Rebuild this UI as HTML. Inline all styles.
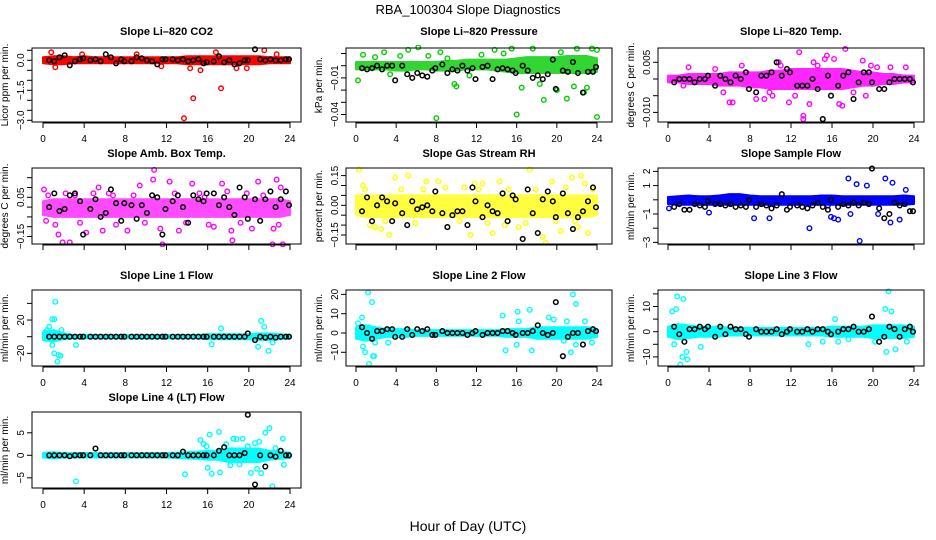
<!DOCTYPE html>
<html><head><meta charset="utf-8"><style>
html,body{margin:0;padding:0;background:#fff;}
svg{display:block;font-family:"Liberation Sans",Arial,sans-serif;}
</style></head><body>
<svg id="chart" width="936" height="540" viewBox="0 0 936 540">
<text x="468" y="14" text-anchor="middle" font-size="13">RBA_100304  Slope Diagnostics</text>
<text x="468" y="531" text-anchor="middle" font-size="14">Hour of Day (UTC)</text>
</svg>
<script>
// ---- shared data ----
const bandHours = [0,1,2,3,4,5,6,7,8,9,10,11,12,13,14,15,16,17,18,19,20,21,22,23,24];
const blackHours = [0.6,1.1,1.6,2.1,2.6,3.1,3.6,3.9,4.6,5.1,5.6,6.1,6.6,7.1,7.6,7.9,8.6,9.1,9.6,10.1,10.6,11.1,11.6,11.9,12.6,13.1,13.6,14.1,14.6,15.1,15.6,15.9,16.6,17.1,17.6,18.1,18.6,19.1,19.6,19.9,20.6,21.1,21.6,22.1,22.6,23.1,23.6,23.9];
const xTicks = [0,4,8,12,16,20,24];

// CO2
const co2Lo = [-0.15,-0.2,-0.2,-0.15,-0.15,-0.15,-0.15,-0.15,-0.15,-0.15,-0.15,-0.15,-0.15,-0.15,-0.2,-0.2,-0.2,-0.2,-0.2,-0.2,-0.2,-0.2,-0.15,-0.15,-0.15];
const co2Hi = [0.15,0.2,0.2,0.15,0.2,0.15,0.15,0.15,0.15,0.15,0.15,0.15,0.15,0.15,0.2,0.2,0.2,0.2,0.2,0.2,0.2,0.2,0.15,0.15,0.15];
const co2OX = [13.7,14.6,17.3,14.3,15.3,18.8,19.8,21.5,16.8,0.8,3.8,9.1,1.2,11.5,22.7];
const co2OY = [-2.9,-1.9,-1.4,-0.4,-0.5,-0.4,-0.4,0.5,0.4,0.4,0.3,0.3,-0.35,-0.3,0.3];
const co2Black = [0,-0.05,0.15,0.25,-0.25,-0.05,0.05,0.1,0,0.05,-0.05,0.3,0.15,-0.15,0.05,-0.05,-0.05,0.15,0.1,0,-0.05,-0.2,0.05,0.05,0.05,0,0.05,-0.05,0,0.05,-0.15,-0.1,-0.05,0.2,-0.1,0,-0.2,-0.15,0,0,0.55,0.05,0,0.05,0,0,0.05,0.05];
// Pressure
const prLo = [-0.003,-0.003,-0.003,-0.003,-0.004,-0.004,-0.003,-0.003,-0.004,-0.004,-0.004,-0.003,-0.003,-0.003,-0.004,-0.005,-0.006,-0.006,-0.006,-0.006,-0.006,-0.006,-0.006,-0.006,-0.005];
const prHi = [0.003,0.003,0.003,0.003,0.003,0.003,0.003,0.003,0.003,0.004,0.004,0.005,0.005,0.005,0.005,0.005,0.006,0.007,0.007,0.007,0.007,0.008,0.008,0.008,0.006];
const prOX = [8,16,24,18.7,21,0.2,10,16.5,20,22.7,23,6.2,5.2,15.5,24,13.8,2.8,0.7,8.4,22,9.8,17.6,18.3,21.7,23.5,20.4,1.9,3.4,4.4,7.2,9.1,11.3,12.5,14.7];
const prOY = [-0.043,-0.04,-0.042,-0.028,-0.027,-0.012,-0.017,-0.018,-0.02,-0.022,-0.018,0.015,0.013,0.014,0.013,0.013,0.011,0.009,0.011,0.014,-0.015,0.014,-0.015,-0.017,0.014,0.011,0.007,-0.007,0.008,0.008,0.006,-0.008,0.009,0.010];
const prBlack = [-0.002,-0.003,-0.002,0,-0.003,0,0,-0.012,0,-0.007,-0.01,-0.006,-0.008,-0.009,-0.004,-0.002,0.001,-0.006,-0.003,-0.004,0,-0.004,-0.002,-0.011,-0.001,0,-0.011,-0.003,-0.002,-0.003,-0.004,-0.006,0,-0.004,-0.01,-0.008,-0.011,-0.007,0.005,-0.019,-0.004,-0.005,0.003,-0.006,-0.022,-0.005,-0.005,-0.001];
// Li-820 Temp
const tpLo = [-0.001,-0.001,-0.0015,-0.0015,-0.0015,-0.002,-0.002,-0.002,-0.0025,-0.0025,-0.003,-0.003,-0.003,-0.003,-0.003,-0.003,-0.003,-0.003,-0.0025,-0.002,-0.002,-0.0015,-0.0015,-0.001,-0.001];
const tpHi = [0.001,0.001,0.0015,0.0015,0.0015,0.0015,0.002,0.002,0.002,0.002,0.0025,0.0025,0.003,0.003,0.003,0.003,0.003,0.003,0.0025,0.002,0.002,0.0015,0.0015,0.001,0.001];
const tpOX = [12.8,15.5,17.3,10.8,13.2,13.2,6,6.3,9.4,11.8,13.8,16.7,19,17,19.3,2,15.3,14.2,16.2,21.7,23.2,10.2,8.6,20.4,7.2,9.9,11,12.4,14.6,18.1,19.8,1.5,4.6,5.4];
const tpOY = [0.008,0.007,0.009,0.005,-0.011,-0.012,-0.007,-0.007,-0.006,-0.007,-0.0075,-0.0075,0.0055,-0.008,-0.005,0.0035,0.006,0.005,0.006,0.0035,0.0035,-0.005,-0.006,0.0035,0.004,-0.004,0.004,-0.005,0.004,-0.004,0.004,-0.002,0.003,-0.004];
const tpBlack = [-0.001,0,0,0,-0.001,0,0,0.001,-0.002,0.001,0,-0.001,0.001,0,0.002,-0.003,-0.004,0.001,0.001,0.002,0.005,0.001,0.003,0.002,-0.002,-0.002,-0.002,0,-0.003,-0.012,0.001,-0.005,-0.002,0.001,0.002,-0.006,-0.001,0.002,0.002,-0.001,-0.003,-0.003,-0.001,0,0,0,0,-0.001];
// Amb Box Temp
const abLo = [-0.04,-0.05,-0.05,-0.05,-0.05,-0.05,-0.05,-0.05,-0.05,-0.05,-0.05,-0.05,-0.05,-0.05,-0.05,-0.05,-0.05,-0.05,-0.05,-0.05,-0.05,-0.05,-0.05,-0.05,-0.04];
const abHi = [0.03,0.04,0.04,0.04,0.04,0.04,0.04,0.04,0.04,0.04,0.04,0.04,0.04,0.04,0.04,0.04,0.04,0.04,0.04,0.04,0.04,0.04,0.04,0.04,0.03];
const abOX = [0.1,1.5,2.6,1.9,3.1,5.4,7.8,10.8,10.7,11.6,12.3,14.5,17.4,18.4,20.9,22.7,22.3,23.3,1.2,4.2,5.8,8.2,11.4,13.2,16.6,18.3,20.3,22.4,23.1,9.4,0.5,2.2,3.6,4.9,6.4,7.1,8.8,9.9,12.8,13.9,15.2,16.1,17.9,19.2,19.8,21.4,22.9,0.3,6.8,15.7];
const abOY = [0.09,-0.14,-0.18,-0.18,0.06,0.1,-0.25,0.19,0.14,-0.19,0.13,0.12,0.12,-0.17,0.13,0.14,-0.19,-0.19,-0.09,-0.13,-0.12,-0.12,-0.11,-0.12,-0.1,-0.12,-0.11,-0.11,0.1,0.11,0.06,0.07,-0.08,0.07,0.07,-0.09,0.06,-0.08,0.07,-0.08,0.07,-0.09,0.08,-0.08,0.07,0.06,-0.09,-0.07,0.06,0.05];
const abBlack = [0,0.07,-0.02,-0.01,0.06,0.07,0.03,-0.14,-0.01,0.04,-0.05,-0.03,0.09,0.02,-0.07,0.02,0.01,-0.06,0.01,-0.03,0.06,0.05,-0.14,-0.01,0.03,0.06,0,-0.08,0.06,0.04,0.03,0.07,0.07,0.01,0.05,0,-0.04,0.1,0.05,-0.06,0.04,-0.07,0.04,0.08,0,0.04,0.08,0.01];
// Gas Stream RH
const rhLo = [-0.05,-0.06,-0.06,-0.06,-0.06,-0.06,-0.06,-0.06,-0.06,-0.06,-0.06,-0.06,-0.06,-0.06,-0.06,-0.06,-0.06,-0.06,-0.06,-0.06,-0.06,-0.06,-0.06,-0.06,-0.05];
const rhHi = [0.05,0.05,0.05,0.05,0.05,0.05,0.05,0.05,0.05,0.05,0.05,0.05,0.05,0.05,0.05,0.05,0.05,0.05,0.05,0.05,0.05,0.05,0.05,0.05,0.05];
const rhOX = [0.3,0.7,3.9,5.2,7,8.2,11.8,12.6,14.3,17.3,18.6,19.5,21.5,22.4,22.8,1.9,3.3,9.1,11.4,13.6,16.2,18.9,20.4,22.1,23.1,2.5,0.9,2.9,4.5,5.9,6.7,8.9,10.3,12.2,13.1,15.2,16.9,17.9,19.9,20.9,21.8,23.6,1.4,10.8,14.8];
const rhOY = [0.18,0.1,0.14,0.15,0.12,0.12,0.11,0.11,0.12,0.18,-0.16,0.12,0.14,0.15,0.11,-0.11,-0.15,-0.11,-0.15,-0.14,-0.11,-0.19,-0.13,-0.11,-0.14,-0.12,0.08,-0.08,0.08,-0.09,0.08,0.09,-0.08,0.08,-0.09,0.08,-0.09,0.08,-0.08,0.09,-0.08,0.08,-0.1,0.09,-0.1];
const rhBlack = [-0.03,0.04,-0.08,0,0.04,0.02,-0.08,0.01,-0.04,-0.1,0.02,-0.02,-0.01,0,-0.03,0.07,-0.04,-0.11,-0.05,-0.03,-0.03,-0.1,0.09,0.02,-0.06,0,-0.03,-0.04,0.06,-0.08,0.05,0.03,-0.17,0.08,-0.04,-0.14,0.03,0.07,0.02,-0.06,0.06,-0.04,-0.12,-0.06,-0.03,0.02,0.09,-0.01];
// Sample Flow
const sfLo = [-0.3,-0.35,-0.35,-0.35,-0.35,-0.35,-0.35,-0.35,-0.35,-0.35,-0.35,-0.35,-0.35,-0.35,-0.35,-0.35,-0.35,-0.35,-0.35,-0.35,-0.35,-0.35,-0.35,-0.35,-0.3];
const sfHi = [0.2,0.25,0.3,0.25,0.25,0.3,0.4,0.4,0.3,0.25,0.25,0.25,0.25,0.25,0.25,0.3,0.3,0.25,0.25,0.25,0.25,0.25,0.25,0.3,0.25];
const sfOX = [4,8.4,9.9,13.8,15.9,16.2,16.6,17.6,17.8,18.7,19.4,20.5,21.2,21.7,21.9,22.6,18.4,15.6,23.2,0.1];
const sfOY = [-0.9,-1.3,-1.3,-2,-1.2,-1.3,-1.4,1.5,-1,-2.9,1,-1,1.5,-1.6,1.2,-1.4,1.1,-0.4,0.7,-0.6];
const sfBlack = [-0.5,-0.3,-0.7,-0.7,-0.3,-0.4,-0.5,-0.1,-0.3,-0.3,-0.4,-0.3,-0.5,-0.4,-0.5,0,-0.5,-0.3,-0.4,-0.6,-0.4,0.4,-0.7,-0.5,-0.4,-0.5,-0.6,-0.4,-0.2,-0.5,-0.7,0,-0.5,-0.3,-0.4,-0.2,-0.4,-0.2,-0.3,2.2,-0.6,-1.3,-1.0,-0.2,-0.4,-0.3,-0.8,-0.8];
// Line 1
const l1Lo = [-4,-6,-3,-2,-2,-2,-2,-2,-2,-2,-2,-2,-2,-2,-2,-2,-3,-3,-3,-3,-3,-4,-4,-3,-2];
const l1Hi = [5,8,4,2,2,2,2,2,2,2,2,2,2,2,2,2,3,3,3,3,3,4,4,3,2];
const l1OX = [1.2,0.9,1.1,0.6,0.4,1.4,1.5,1.7,1.1,0.9,3.2,17.3,20.9,21.2,21.5,21.9,16.4,22.3,0.2,1.8];
const l1OY = [42,21,21,12,8,-30,-22,-23,-20,-10,-10,10,-12,19,12,-17,-9,-7,5,8];
const l1Black = [0,0,0,0,0,0,0,0,0,0,0,0,0,0,0,0,0,0,0,0,0,0,0,0,0,0,0,0,0,0,0,0,0,0,0,0,0,0,0,4,-4,0,-1,0,-1,0,0,0];
// Line 2
const l2Lo = [-3,-4,-3,-2,-2,-2,-1.5,-1.5,-1.5,-1.5,-1.5,-1.5,-1.5,-1.5,-1.5,-2,-2,-2,-3,-3,-3,-3,-3,-3,-2];
const l2Hi = [3,4,3,2,2,2,1.5,1.5,1.5,1.5,1.5,1.5,1.5,1.5,1.5,2,2,2,3,3,3,3,3,3,2];
const l2OX = [1.2,1.6,0.2,0.6,1.8,1.3,0.9,1.7,1.9,0.7,3.2,14.6,14.9,16.1,16.2,17.3,17.5,19.2,19.7,20.7,21.6,21.9,21.4,22.8,16,21,23.5,21.9];
const l2OY = [21,16,5,8,-12,-16,-10,-12,-5,-7,-5,9,-9,11,6,12,-9,8,7,-4,20,15,-10,6,-6,6,-5,-6];
const l2Black = [3,0,-3,1,1,2,2,-2,-2,2,-1,2,1,2,-1,-1,1,0,0,0,0,-1,0,1,-1,0,0,0,1,1,0,-1,0,0,1,4,0,-1,0,16,-12,-2,0,0,-6,1,2,1];
// Line 3
const l3Lo = [-2,-3,-2.5,-2,-2,-2,-1.5,-1.5,-1.5,-1.5,-1.5,-1.5,-1.5,-1.5,-1.5,-1.5,-2,-2,-2,-2,-2.5,-2.5,-2.5,-2.5,-2];
const l3Hi = [2,3,2.5,2,2,2,1.5,1.5,1.5,1.5,1.5,1.5,1.5,1.5,1.5,1.5,2,2,2,2,2.5,2.5,2.5,2.5,2];
const l3OX = [0.9,1.5,0.4,0.8,0.6,1.2,1.4,1.8,1.9,3.2,13.7,15.1,16.3,16.6,17.6,20.2,21.2,21.5,21.8,22.2,21.3,20.6,23.3];
const l3OY = [14,13,8,9,-5,-13,-10,-8,-11,-6,-5,-4,5,-4,-3,-4,9,16,8,-7,-8,-4,-4];
const l3Black = [2,-1,-4,1,1,2,1,2,-2,2,-1,2,1,1,-1,-2,1,0,0,0,1,-1,0,1,0,0,1,0,1,1,0,-1,0,1,1,2,0,0,1,6,-4,-2,2,1,-2,1,2,0];
// Line 4
const l4Lo = [-0.5,-0.7,-0.5,-0.5,-0.5,-0.5,-0.5,-0.5,-0.5,-0.5,-0.5,-0.5,-0.5,-0.6,-0.7,-0.8,-1,-1,-1.5,-1.5,-1.5,-1.5,-1,-0.8,-0.6];
const l4Hi = [0.5,0.7,0.5,0.5,0.5,0.5,0.5,0.5,0.5,0.5,0.5,0.5,0.5,0.6,0.7,0.8,1,1,1.5,1.5,1.5,1.5,1,0.8,0.6];
const l4OX = [3.2,13.8,15.3,15.6,16,16.2,16.4,17.1,17.2,18.5,18.8,19.4,19.9,20.2,20.6,21,21.2,21.6,22,22.3,23.3,23.4,15.9,17.8,18.2,19.1,20.8,22.6];
const l4OY = [-5.8,-4.2,3.4,2.5,-2.8,4.6,-4.1,5.2,-3.8,3.7,3.6,3.7,2,-3.9,2.7,3,-4,5,6,-6.9,3.7,-2.1,2,2.5,-2.2,-2,-3,1.6];
const l4Black = [0,0,0,0,-0.2,0,0,0,0,1.5,0,0,0,0,0,0,0,0,0,0,0,0,0,0,0,0,0.8,0,0,0,0,0,0,1,1.8,0,0,0,0.5,9,-6.5,0,-2.5,0,-0.3,1,0,0];

// ---- layout (positions, not data) ----
const cols = [{l:32,r:301,x0:43,x24:290},{l:346,r:612,x0:356,x24:597},{l:658,r:924,x0:668,x24:914}];
const rows = [{t:48,b:122,title:35,lab:true},{t:168,b:244,title:157,lab:false},{t:290,b:366,title:279,lab:true},{t:412,b:488,title:401,lab:true}];

const panels = [
 {name:'co2',title:'Slope Li\u2013820 CO2',ylab:'Licor ppm per min.',row:0,col:0,color:'#ff0000',op:1,y0:60.3,ppu:20,ticks:[0.5,0,-0.5,-1,-1.5,-2,-2.5,-3],labels:['0.0','-1.5','-3.0'],lo:co2Lo,hi:co2Hi,ox:co2OX,oy:co2OY,blk:co2Black},
 {name:'pressure',title:'Slope Li\u2013820 Pressure',ylab:'kPa per min.',row:0,col:1,color:'#00cc00',op:0.8,y0:65.7,ppu:1220,ticks:[0.01,0,-0.01,-0.02,-0.03,-0.04],labels:['-0.01','-0.04'],lo:prLo,hi:prHi,ox:prOX,oy:prOY,blk:prBlack},
 {name:'li820-temp',title:'Slope Li\u2013820 Temp.',ylab:'degrees C per min.',row:0,col:2,color:'#ff00ff',op:0.85,y0:79,ppu:3340,ticks:[0.005,0,-0.005,-0.01],labels:['0.005','-0.010'],lo:tpLo,hi:tpHi,ox:tpOX,oy:tpOY,blk:tpBlack},
 {name:'amb-box-temp',title:'Slope Amb. Box Temp.',ylab:'degrees C per min.',row:1,col:0,color:'#ff00ff',op:0.7,y0:207.1,ppu:196,ticks:[0.15,0.1,0.05,0,-0.05,-0.1,-0.15],labels:['0.05','-0.15'],lo:abLo,hi:abHi,ox:abOX,oy:abOY,blk:abBlack},
 {name:'gas-stream-rh',title:'Slope Gas Stream RH',ylab:'percent per min.',row:1,col:1,color:'#ffff00',op:0.75,y0:205.3,ppu:198,ticks:[0.15,0.1,0.05,0,-0.05,-0.1,-0.15],labels:['0.15','0.00','-0.15'],lo:rhLo,hi:rhHi,ox:rhOX,oy:rhOY,blk:rhBlack},
 {name:'sample-flow',title:'Slope Sample Flow',ylab:'ml/min per min.',row:1,col:2,color:'#0000ff',op:1,y0:199.8,ppu:14.2,ticks:[2,1,0,-1,-2,-3],labels:['2','1','-1','-3'],lo:sfLo,hi:sfHi,ox:sfOX,oy:sfOY,blk:sfBlack},
 {name:'line1-flow',title:'Slope Line 1 Flow',ylab:'ml/min per min.',row:2,col:0,color:'#00ffff',op:1,y0:336.7,ppu:0.833,ticks:[40,20,0,-20],labels:['20','-20'],lo:l1Lo,hi:l1Hi,ox:l1OX,oy:l1OY,blk:l1Black},
 {name:'line2-flow',title:'Slope Line 2 Flow',ylab:'ml/min per min.',row:2,col:1,color:'#00ffff',op:1,y0:333,ppu:1.93,ticks:[20,10,0,-10],labels:['20','10','0','-10'],lo:l2Lo,hi:l2Hi,ox:l2OX,oy:l2OY,blk:l2Black},
 {name:'line3-flow',title:'Slope Line 3 Flow',ylab:'ml/min per min.',row:2,col:2,color:'#00ffff',op:1,y0:331.7,ppu:2.52,ticks:[15,10,5,0,-5,-10],labels:['10','0','-10'],lo:l3Lo,hi:l3Hi,ox:l3OX,oy:l3OY,blk:l3Black},
 {name:'line4-flow',title:'Slope Line 4 (LT) Flow',ylab:'ml/min per min.',row:3,col:0,color:'#00ffff',op:1,y0:455.3,ppu:4.5,ticks:[5,0,-5],labels:['5','0','-5'],lo:l4Lo,hi:l4Hi,ox:l4OX,oy:l4OY,blk:l4Black}
];

const NS='http://www.w3.org/2000/svg';
const svg=document.getElementById('chart');
function mk(tag,attrs,parent){const e=document.createElementNS(NS,tag);for(const k in attrs)e.setAttribute(k,attrs[k]);(parent||svg).appendChild(e);return e;}
function fmt(v){return String(v).replace('-','\u2212');}

panels.forEach(p=>{
  const c=cols[p.col], r=rows[p.row];
  const xs=h=>c.x0+(c.x24-c.x0)*h/24;
  const ys=v=>p.y0-v*p.ppu;
  const g=mk('g',{});
  
  
  const clipId='clip-'+p.name;
  const cp=mk('clipPath',{id:clipId},g);
  mk('rect',{x:c.l,y:r.t-3,width:c.r-c.l,height:r.b-r.t+6},cp);
  const t=mk('text',{x:(c.l+c.r)/2,y:r.title,'text-anchor':'middle','font-size':11,'font-weight':'bold'},g);
  t.textContent=p.title;
  
  
  const yl=mk('text',{x:0,y:0,'text-anchor':'middle','font-size':10,transform:`translate(${c.l-24},${(r.t+r.b)/2}) rotate(-90)`},g);
  yl.textContent=p.ylab;
  
  
  const plot=mk('g',{'clip-path':`url(#${clipId})`},g);
  let pts=bandHours.map((h,i)=>xs(h)+','+ys(p.hi[i]));
  pts=pts.concat(bandHours.slice().reverse().map((h,j)=>{const i=bandHours.length-1-j;return xs(h)+','+ys(p.lo[i]);}));
  const band=mk('polygon',{points:pts.join(' '),fill:p.color,stroke:p.color,'stroke-width':2,'stroke-linejoin':'round',opacity:p.op},plot);
  
  
  p.ox.forEach((h,i)=>{
    const ci=mk('circle',{cx:xs(h),cy:ys(p.oy[i]),r:2.3,fill:'none',stroke:p.color,'stroke-width':1.4},plot);
    
    
  });
  blackHours.forEach((h,i)=>{
    const ci=mk('circle',{cx:xs(h),cy:ys(p.blk[i]),r:2.3,fill:'none',stroke:'#000','stroke-width':1.5},plot);
    
    
  });
  const box=mk('rect',{x:c.l,y:r.t,width:c.r-c.l,height:r.b-r.t,fill:'none',stroke:'#000','stroke-width':1},g);
  
  
  p.ticks.forEach(v=>{mk('line',{x1:c.l-5,x2:c.l,y1:ys(v),y2:ys(v),stroke:'#000'},g);});
  p.labels.forEach(s=>{
    const v=parseFloat(s);
    const tl=mk('text',{x:0,y:0,'text-anchor':'middle','font-size':10,transform:`translate(${c.l-8},${ys(v)}) rotate(-90)`},g);
    tl.textContent=fmt(s);
    
    
  });
  mk('line',{x1:xs(0),x2:xs(24),y1:r.b+1,y2:r.b+1,stroke:'#000'},g);
  xTicks.forEach(h=>{
    mk('line',{x1:xs(h),x2:xs(h),y1:r.b,y2:r.b+6,stroke:'#000'},g);
    if(r.lab){
      const tx=mk('text',{x:xs(h),y:r.b+20,'text-anchor':'middle','font-size':10},g);
      tx.textContent=h;
      
      
    }
  });
});
</script>
</body></html>
